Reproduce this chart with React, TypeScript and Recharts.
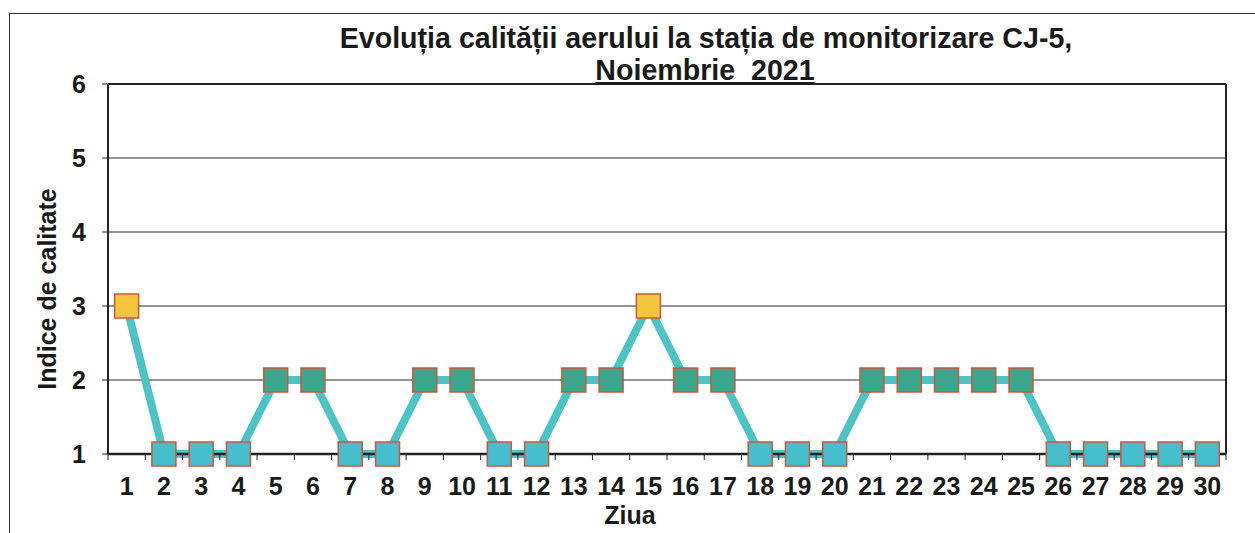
import { LineChart, Line, XAxis, YAxis, CartesianGrid, ReferenceLine } from "recharts";

// ziua lunii (noiembrie 2021)
const days = [
  "1", "2", "3", "4", "5", "6", "7", "8", "9", "10",
  "11", "12", "13", "14", "15", "16", "17", "18", "19", "20",
  "21", "22", "23", "24", "25", "26", "27", "28", "29", "30",
];
// indice de calitate
const indexValues = [
  3, 1, 1, 1, 2, 2, 1, 1, 2, 2,
  1, 1, 2, 2, 3, 2, 2, 1, 1, 1,
  2, 2, 2, 2, 2, 1, 1, 1, 1, 1,
];
const yTicks = [1, 2, 3, 4, 5, 6];

const data = days.map((d, i) => ({ day: d, indice: indexValues[i] }));

const W = 1255;
const H = 533;
const PLOT_LEFT = 108;
const PLOT_RIGHT = 1226;
const PLOT_TOP = 84;
const PLOT_BOTTOM = 454;
const BAND = (PLOT_RIGHT - PLOT_LEFT) / days.length;
const FONT = "Arial, 'Liberation Sans', sans-serif";

const markerFill: Record<number, string> = {
  1: "#45bfcb",
  2: "#3ca68c",
  3: "#f3c63e",
};

const SquareDot = (props: any) => {
  const { cx, cy, value, index } = props;
  if (cx == null || cy == null) return null;
  return (
    <rect
      key={`dot-${index}`}
      x={cx - 12}
      y={cy - 12}
      width={24}
      height={24}
      fill={markerFill[value] || "#45bfcb"}
      stroke="#d2553a"
      strokeWidth={1.5}
    />
  );
};

const DayTick = (props: any) => {
  const { x, payload } = props;
  const half = BAND / 2;
  const last = payload.value === days[days.length - 1];
  return (
    <g>
      <line x1={x - half} x2={x - half} y1={PLOT_BOTTOM} y2={PLOT_BOTTOM + 6} stroke="#222" strokeWidth={1} />
      {last && <line x1={x + half} x2={x + half} y1={PLOT_BOTTOM} y2={PLOT_BOTTOM + 6} stroke="#222" strokeWidth={1} />}
      <text x={x} y={495} textAnchor="middle" fontSize={25} fontWeight="bold" fill="#1a1a1a" fontFamily={FONT}>
        {payload.value}
      </text>
    </g>
  );
};

const App = () => {
  return (
    <div style={{ position: "absolute", left: 0, top: 0, width: W, height: H, background: "#fff", overflow: "hidden" }}>
      <div
        style={{
          position: "absolute",
          left: 9,
          top: 13,
          width: W,
          height: H,
          borderLeft: "1.5px solid #333",
          borderTop: "1.5px solid #333",
        }}
      />
      <div style={{ position: "absolute", left: 0, top: 0 }}>
        <LineChart
          width={W}
          height={H}
          data={data}
          margin={{ top: PLOT_TOP, right: W - PLOT_RIGHT - 1, bottom: H - PLOT_BOTTOM - 70, left: PLOT_LEFT - 60 }}
        >
          <CartesianGrid horizontal vertical={false} stroke="#2a2a2a" strokeWidth={1.2} />
          <XAxis
            dataKey="day"
            interval={0}
            height={70}
            padding={{ left: BAND / 2, right: BAND / 2 }}
            axisLine={{ stroke: "#222", strokeWidth: 2.5 }}
            tickLine={false}
            tick={<DayTick />}
          />
          <YAxis
            domain={[1, 6]}
            ticks={yTicks}
            width={60}
            axisLine={{ stroke: "#222", strokeWidth: 2 }}
            tickLine={{ stroke: "#222" }}
            tickSize={6}
            tickMargin={16}
            tick={{ fontSize: 25, fontWeight: "bold", fill: "#1a1a1a", fontFamily: FONT }}
          />
          <YAxis
            yAxisId="right"
            orientation="right"
            domain={[1, 6]}
            width={1}
            tick={false}
            tickLine={false}
            axisLine={{ stroke: "#222", strokeWidth: 2 }}
          />
          <ReferenceLine y={6} stroke="#222" strokeWidth={2} />
          <Line
            type="linear"
            dataKey="indice"
            stroke="#4cc4c6"
            strokeWidth={8}
            dot={<SquareDot />}
            activeDot={false}
            isAnimationActive={false}
          />
        </LineChart>
      </div>
      <svg width={W} height={H} style={{ position: "absolute", left: 0, top: 0, pointerEvents: "none" }}>
        <text x={706} y={48} textAnchor="middle" fontSize={28.6} fontWeight="bold" fill="#1a1a1a" fontFamily={FONT}>
          Evoluția calității aerului la stația de monitorizare CJ-5,
        </text>
        <text
          x={705}
          y={80}
          textAnchor="middle"
          fontSize={28.6}
          fontWeight="bold"
          fill="#1a1a1a"
          fontFamily={FONT}
          textDecoration="underline"
          style={{ whiteSpace: "pre" }}
        >
          {"Noiembrie  2021"}
        </text>
        <text
          x={47}
          y={289}
          transform="rotate(-90 47 289)"
          textAnchor="middle"
          dominantBaseline="central"
          fontSize={25}
          fontWeight="bold"
          fill="#1a1a1a"
          fontFamily={FONT}
        >
          Indice de calitate
        </text>
        <text x={630} y={524} textAnchor="middle" fontSize={25} fontWeight="bold" fill="#1a1a1a" fontFamily={FONT}>
          Ziua
        </text>
      </svg>
    </div>
  );
};

export default App;
